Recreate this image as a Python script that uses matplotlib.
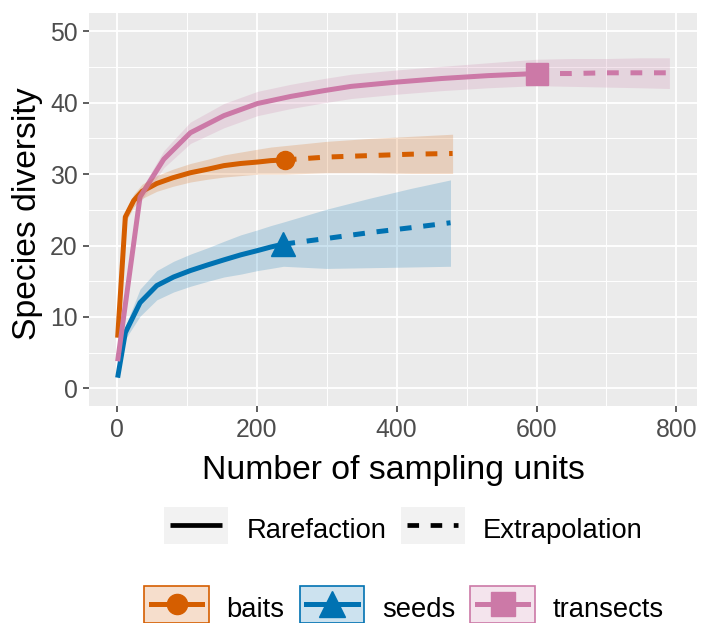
import matplotlib

matplotlib.use("Agg")
import matplotlib.pyplot as plt
from matplotlib.colors import to_rgba
from matplotlib.legend_handler import HandlerPatch, HandlerTuple
from matplotlib.lines import Line2D
from matplotlib.patches import Patch, Rectangle

plt.rcParams["font.family"] = ["Liberation Sans", "DejaVu Sans"]

groups = ["baits", "seeds", "transects"]
colors = ["#D55E00", "#0072B2", "#CC79A7"]
markers = ["o", "^", "s"]
marker_sizes = [13, 17, 15.5]

# rarefaction part (last point = observed sample)
baits_m = [1, 12, 24, 36, 57, 80, 105, 130, 153, 177, 201, 220, 240]
baits_qd = [7.1, 24.0, 26.3, 27.6, 28.7, 29.5, 30.2, 30.7, 31.2, 31.5, 31.7, 31.9, 32.0]
baits_lo = [6.7, 23.2, 25.4, 26.6, 27.6, 28.3, 28.9, 29.3, 29.6, 29.8, 30.0, 30.0, 30.0]
baits_hi = [7.5, 24.8, 27.2, 28.6, 29.8, 30.7, 31.5, 32.1, 32.7, 33.1, 33.5, 33.8, 34.0]

seeds_m = [1, 12, 33, 57, 81, 105, 130, 153, 177, 201, 220, 238]
seeds_qd = [1.5, 7.8, 12.0, 14.4, 15.6, 16.5, 17.3, 18.0, 18.7, 19.3, 19.8, 20.2]
seeds_lo = [1.3, 6.9, 10.1, 12.4, 13.5, 14.3, 15.0, 15.6, 16.0, 16.5, 16.8, 17.1]
seeds_hi = [1.7, 8.7, 13.9, 16.5, 17.8, 18.8, 19.7, 20.6, 21.5, 22.2, 22.8, 23.3]

transects_m = [1, 33, 67, 105, 153, 201, 249, 296, 335, 400, 464, 530, 600]
transects_qd = [3.8, 26.8, 32.1, 35.8, 38.2, 39.9, 40.9, 41.7, 42.3, 42.9, 43.4, 43.8, 44.1]
transects_lo = [3.5, 26.0, 30.9, 34.3, 36.5, 38.2, 39.2, 40.0, 40.6, 41.2, 41.7, 42.1, 42.4]
transects_hi = [4.1, 27.6, 33.3, 37.3, 39.9, 41.6, 42.6, 43.4, 44.0, 44.6, 45.1, 45.6, 46.1]

# extrapolation part (starts at the observed sample)
baits_ext_m = [240, 300, 360, 420, 480]
baits_ext_qd = [32.0, 32.4, 32.6, 32.8, 32.9]
baits_ext_lo = [30.0, 30.2, 30.2, 30.1, 30.1]
baits_ext_hi = [34.0, 34.6, 35.0, 35.3, 35.6]

seeds_ext_m = [238, 300, 360, 420, 477]
seeds_ext_qd = [20.2, 21.0, 21.8, 22.5, 23.2]
seeds_ext_lo = [17.1, 16.8, 16.9, 17.0, 17.1]
seeds_ext_hi = [23.3, 25.1, 26.6, 28.0, 29.2]

transects_ext_m = [600, 650, 700, 750, 790]
transects_ext_qd = [44.1, 44.1, 44.2, 44.2, 44.2]
transects_ext_lo = [42.4, 42.3, 42.2, 42.1, 42.0]
transects_ext_hi = [46.1, 46.2, 46.2, 46.3, 46.3]

rare = [
    (baits_m, baits_qd, baits_lo, baits_hi),
    (seeds_m, seeds_qd, seeds_lo, seeds_hi),
    (transects_m, transects_qd, transects_lo, transects_hi),
]
extra = [
    (baits_ext_m, baits_ext_qd, baits_ext_lo, baits_ext_hi),
    (seeds_ext_m, seeds_ext_qd, seeds_ext_lo, seeds_ext_hi),
    (transects_ext_m, transects_ext_qd, transects_ext_lo, transects_ext_hi),
]

x_major = [0, 200, 400, 600, 800]
x_minor = [100, 300, 500, 700]
y_major = [0, 10, 20, 30, 40, 50]
y_minor = [5, 15, 25, 35, 45]

LW = 3.6
DASH = (0, (2.35, 2.35))

fig = plt.figure(figsize=(7.01, 6.23), dpi=100)
ax = fig.add_axes([0.1274, 0.3483, 0.8669, 0.6303])
ax.set_facecolor("#EBEBEB")
for s in ax.spines.values():
    s.set_visible(False)

for (m, qd, lo, hi), (em, eqd, elo, ehi), c, mk, ms in zip(rare, extra, colors, markers, marker_sizes):
    ax.plot(m[-1], qd[-1], marker=mk, color=c, markersize=ms, linestyle="none", zorder=3)
    ax.plot(m, qd, color=c, lw=LW, solid_capstyle="butt", solid_joinstyle="round", zorder=3)
    ax.plot(em, eqd, color=c, lw=LW, linestyle=DASH, dash_capstyle="butt", zorder=3)
    # ribbon drawn over the lines, like the ggplot original
    ax.fill_between(m + em[1:], lo + elo[1:], hi + ehi[1:], color=c, alpha=0.2, linewidth=0, zorder=4)

ax.set_xlim(-39.5, 829.5)
ax.set_ylim(-2.47, 52.53)
ax.set_xticks(x_major)
ax.set_xticks(x_minor, minor=True)
ax.set_yticks(y_major)
ax.set_yticks(y_minor, minor=True)
ax.set_axisbelow(True)
ax.grid(which="major", color="white", lw=1.3)
ax.grid(which="minor", color="white", lw=0.7)
ax.tick_params(which="major", length=4.5, width=1.1, color="#333333",
               labelsize=17.8, labelcolor="#4D4D4D", pad=3.9)
ax.tick_params(which="minor", length=0)

ax.set_xlabel("Number of sampling units", fontsize=24.3, va="baseline")
ax.xaxis.set_label_coords(0.5, -0.187)
ax.set_ylabel("Species diversity", fontsize=24.3, va="baseline")
ax.yaxis.set_label_coords(-0.0877, 0.489)


def key_box(legend, orig_handle, xdescent, ydescent, width, height, fontsize):
    pad = 4.7
    h = 26.6
    yc = (height - ydescent) / 2
    return Rectangle((-xdescent - pad, yc - h / 2), width + 2 * pad, h)


hmap = {tuple: HandlerTuple(ndivide=1, pad=0), Patch: HandlerPatch(patch_func=key_box)}

lt_handles = [
    (Patch(facecolor="#F2F2F2", edgecolor="none"),
     Line2D([], [], color="black", lw=3.4, solid_capstyle="butt")),
    (Patch(facecolor="#F2F2F2", edgecolor="none"),
     Line2D([], [], color="black", lw=3.4, linestyle=(0, (2.45, 2.45)), dash_capstyle="butt")),
]
fig.legend(lt_handles, ["Rarefaction", "Extrapolation"], handler_map=hmap,
           ncol=2, loc="center", bbox_to_anchor=(0.580, 0.1517), frameon=False,
           fontsize=19.7, handlelength=1.88, handleheight=1.37,
           handletextpad=0.9, columnspacing=0.76, borderpad=0)

grp_handles = [
    (Patch(facecolor=to_rgba(c, 0.2), edgecolor=c, lw=1.2),
     Line2D([], [], color=c, lw=3.6, marker=mk, markersize=ms + 1.5))
    for c, mk, ms in zip(colors, markers, marker_sizes)
]
fig.legend(grp_handles, groups, handler_map=hmap,
           ncol=3, loc="center", bbox_to_anchor=(0.581, 0.025), frameon=False,
           fontsize=19.7, handlelength=1.88, handleheight=1.37,
           handletextpad=0.88, columnspacing=0.8, borderpad=0)

fig.savefig("out.png", dpi=100)
